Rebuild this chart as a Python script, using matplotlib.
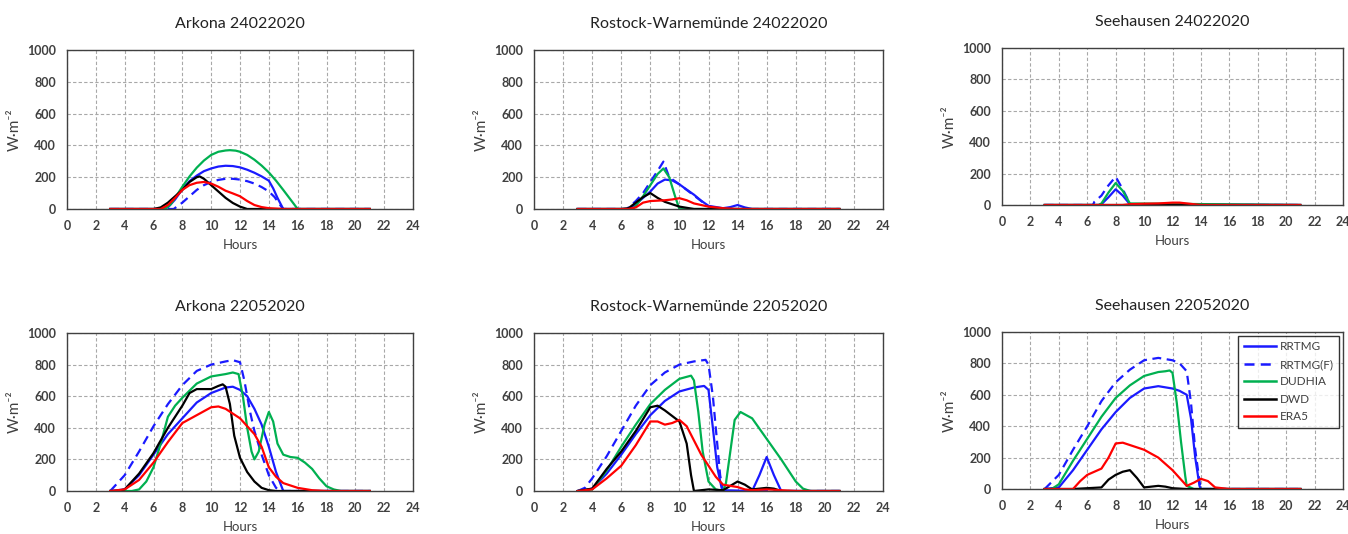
import matplotlib
matplotlib.use("Agg")
import matplotlib.pyplot as plt
from matplotlib.lines import Line2D

plt.rcParams['font.family'] = ['Lato', 'DejaVu Sans']

titles = ["Arkona 24022020", "Rostock-Warnemünde 24022020", "Seehausen 24022020",
          "Arkona 22052020", "Rostock-Warnemünde 22052020", "Seehausen 22052020"]
series_names = ["RRTMG", "RRTMG(F)", "DUDHIA", "DWD", "ERA5"]

# ---------- Arkona 24022020 ----------
p1_rrtmg_t = [3, 6.5, 7, 7.5, 8, 8.5, 9, 9.5, 10, 10.5, 11, 11.5, 12, 12.5, 13, 13.5, 14, 14.3, 14.6, 15, 21]
p1_rrtmg_v = [0, 0, 10, 60, 125, 175, 210, 238, 255, 267, 272, 270, 262, 247, 228, 205, 178, 130, 70, 0, 0]
p1_rrtmgf_t = [3, 7.4, 8, 8.5, 9, 9.5, 10, 10.5, 11, 11.5, 12, 12.5, 13, 13.5, 14, 14.4, 14.7, 15, 21]
p1_rrtmgf_v = [0, 0, 40, 80, 120, 150, 170, 183, 190, 190, 185, 175, 160, 138, 110, 75, 35, 0, 0]
p1_dudhia_t = [3, 6.8, 7.2, 7.5, 8, 8.5, 9, 9.5, 10, 10.5, 11, 11.3, 11.7, 12, 12.5, 13, 13.5, 14, 14.5, 15, 15.5, 16, 21]
p1_dudhia_v = [0, 0, 30, 70, 140, 205, 260, 305, 340, 360, 368, 370, 367, 360, 340, 310, 273, 230, 178, 120, 60, 0, 0]
p1_dwd_t = [3, 6, 6.5, 7, 7.5, 8, 8.5, 9, 9.2, 9.5, 10, 10.5, 11, 11.5, 12, 12.5, 21]
p1_dwd_v = [0, 0, 10, 40, 80, 120, 170, 200, 205, 190, 150, 110, 70, 38, 15, 0, 0]
p1_era5_t = [3, 6.5, 7, 7.5, 8, 8.5, 9, 9.5, 10, 10.5, 11, 11.5, 12, 12.5, 13, 13.5, 14, 15, 21]
p1_era5_v = [0, 0, 25, 70, 120, 150, 165, 170, 160, 140, 115, 98, 80, 50, 25, 12, 5, 0, 0]

# ---------- Rostock-Warnemünde 24022020 ----------
p2_rrtmg_t = [3, 6.5, 7, 7.5, 8, 8.5, 9, 9.5, 10, 10.5, 11, 11.5, 12, 13, 13.5, 14, 14.5, 15, 21]
p2_rrtmg_v = [0, 0, 30, 70, 110, 160, 185, 180, 155, 122, 90, 52, 20, 5, 12, 25, 10, 0, 0]
p2_rrtmgf_t = [3, 6.4, 6.5, 7, 7.5, 8, 8.5, 8.9, 9.3, 10, 11, 12, 13, 21]
p2_rrtmgf_v = [0, 0, 10, 50, 100, 170, 240, 298, 200, 155, 85, 15, 0, 0]
p2_dudhia_t = [3, 6.8, 7, 7.5, 8, 8.5, 8.9, 9.3, 9.7, 10, 21]
p2_dudhia_v = [0, 0, 20, 80, 150, 220, 255, 200, 80, 0, 0]
p2_dwd_t = [3, 6, 6.5, 7, 7.5, 8, 8.5, 9, 10, 11, 21]
p2_dwd_v = [0, 0, 5, 40, 75, 100, 70, 45, 15, 0, 0]
p2_era5_t = [3, 6.5, 7, 7.5, 8, 9, 9.5, 10, 10.5, 11, 12, 13, 14, 21]
p2_era5_v = [0, 0, 10, 40, 50, 55, 60, 68, 55, 35, 15, 5, 0, 0]

# ---------- Seehausen 24022020 ----------
p3_rrtmg_t = [3, 6.8, 7, 7.5, 8, 8.5, 9, 21]
p3_rrtmg_v = [0, 0, 5, 50, 100, 60, 5, 0]
p3_rrtmgf_t = [3, 6.4, 6.5, 7, 7.4, 8, 8.5, 9, 9.2, 21]
p3_rrtmgf_v = [0, 0, 20, 60, 115, 180, 100, 10, 0, 0]
p3_dudhia_t = [3, 6.8, 7, 7.5, 8, 8.5, 9, 21]
p3_dudhia_v = [0, 0, 10, 80, 140, 90, 10, 0]
p3_dwd_t = [3, 21]
p3_dwd_v = [0, 0]
p3_era5_t = [3, 8.5, 9, 10, 11, 12, 12.5, 13, 14, 21]
p3_era5_v = [0, 0, 5, 8, 10, 15, 15, 10, 0, 0]

# ---------- Arkona 22052020 ----------
p4_rrtmg_t = [3, 4, 5, 6, 7, 8, 9, 10, 11, 11.5, 12, 12.5, 13, 13.5, 14, 14.5, 15, 21]
p4_rrtmg_v = [0, 10, 100, 230, 360, 460, 560, 620, 655, 660, 640, 600, 520, 420, 280, 120, 0, 0]
p4_rrtmgf_t = [3, 4, 5, 6, 7, 8, 9, 10, 11, 11.5, 12, 12.3, 12.7, 13, 13.5, 14, 14.5, 14.8, 21]
p4_rrtmgf_v = [0, 100, 250, 410, 550, 670, 760, 800, 820, 828, 815, 700, 500, 380, 230, 100, 20, 0, 0]
p4_dudhia_t = [3, 4.5, 5, 5.5, 6, 6.5, 7, 7.5, 8, 9, 10, 11, 11.5, 11.9, 12.2, 12.5, 12.8, 13,
               13.3, 13.7, 14, 14.3, 14.6, 15, 15.5, 16, 16.5, 17, 17.5, 18, 18.5, 19, 21]
p4_dudhia_v = [0, 0, 10, 60, 150, 300, 470, 540, 590, 680, 725, 740, 750, 740, 600, 400, 250, 200,
               250, 420, 500, 440, 300, 230, 215, 210, 180, 140, 80, 30, 10, 0, 0]
p4_dwd_t = [3, 3.5, 4, 5, 6, 7, 8, 8.5, 9, 10, 10.5, 10.8, 11, 11.3, 11.6, 12, 12.5, 13, 13.5, 14, 14.5, 21]
p4_dwd_v = [0, 0, 10, 110, 240, 400, 540, 620, 645, 645, 665, 675, 660, 550, 350, 210, 120, 60, 20, 5, 0, 0]
p4_era5_t = [3, 4, 5, 6, 7, 8, 9, 10, 10.5, 11, 12, 13, 13.5, 14, 14.5, 15, 16, 17, 18, 21]
p4_era5_v = [0, 10, 70, 180, 310, 430, 480, 530, 535, 520, 460, 360, 280, 150, 90, 50, 20, 5, 0, 0]

# ---------- Rostock-Warnemünde 22052020 ----------
p5_rrtmg_t = [3, 4, 5, 6, 7, 8, 9, 10, 11, 11.7, 12, 12.3, 12.6, 12.9, 13, 15, 15.5, 16, 16.5, 17, 21]
p5_rrtmg_v = [0, 15, 110, 230, 360, 480, 570, 630, 655, 665, 640, 400, 150, 20, 5, 0, 100, 215, 100, 0, 0]
p5_rrtmgf_t = [3, 3.5, 4, 5, 6, 7, 8, 9, 10, 11, 11.8, 12, 12.3, 12.6, 12.8, 13, 21]
p5_rrtmgf_v = [0, 20, 80, 220, 380, 540, 670, 750, 800, 820, 830, 800, 600, 300, 100, 0, 0]
p5_dudhia_t = [3, 4, 5, 6, 7, 8, 9, 10, 10.8, 11, 11.3, 11.6, 12, 12.5, 13, 13.2, 13.5, 13.8,
               14.2, 15, 16, 17, 18, 18.5, 19, 21]
p5_dudhia_v = [0, 10, 130, 280, 420, 550, 640, 710, 730, 700, 500, 250, 60, 10, 0, 50, 250, 450,
               500, 460, 330, 200, 60, 15, 0, 0]
p5_dwd_t = [3, 4, 5, 6, 7, 8, 8.5, 9, 10, 10.5, 10.8, 11, 12, 13, 14, 14.5, 15, 16, 16.5, 17, 21]
p5_dwd_v = [0, 15, 140, 250, 380, 530, 540, 510, 440, 300, 100, 0, 10, 5, 60, 40, 10, 20, 15, 0, 0]
p5_era5_t = [3, 4, 5, 6, 7, 8, 8.5, 9, 9.5, 10, 10.5, 11, 11.5, 12, 12.5, 13, 14, 14.5, 15, 16, 17, 18, 21]
p5_era5_v = [0, 10, 80, 160, 290, 440, 440, 420, 430, 450, 410, 320, 230, 160, 90, 40, 25, 10, 5, 10, 5, 0, 0]

# ---------- Seehausen 22052020 ----------
p6_rrtmg_t = [3, 4, 5, 6, 7, 8, 9, 10, 11, 12, 12.5, 13, 13.3, 13.6, 13.9, 14, 21]
p6_rrtmg_v = [0, 10, 120, 250, 380, 490, 580, 640, 655, 640, 625, 600, 450, 200, 20, 0, 0]
p6_rrtmgf_t = [3, 4, 5, 6, 7, 8, 9, 10, 11, 12, 12.5, 13, 13.3, 13.6, 13.9, 14, 21]
p6_rrtmgf_v = [0, 90, 250, 400, 560, 680, 760, 820, 835, 820, 800, 750, 550, 250, 50, 0, 0]
p6_dudhia_t = [3, 3.5, 4, 5, 6, 7, 8, 9, 10, 11, 11.5, 11.8, 12, 12.3, 12.6, 12.9, 13, 13.5, 21]
p6_dudhia_v = [0, 0, 30, 180, 320, 460, 580, 660, 720, 745, 750, 755, 740, 550, 300, 80, 20, 0, 0]
p6_dwd_t = [3, 5, 6, 7, 7.5, 8, 8.5, 9, 9.5, 10, 10.5, 11, 11.5, 12, 13, 21]
p6_dwd_v = [0, 0, 5, 10, 60, 90, 110, 120, 70, 10, 15, 20, 15, 5, 0, 0]
p6_era5_t = [3, 5, 5.5, 6, 6.5, 7, 7.5, 8, 8.5, 9, 10, 11, 12, 12.5, 13, 13.5, 14, 14.5, 15, 16, 21]
p6_era5_v = [0, 0, 50, 90, 110, 130, 200, 290, 295, 280, 250, 200, 120, 70, 20, 40, 65, 50, 10, 0, 0]

panels = [
    [(p1_rrtmg_t, p1_rrtmg_v), (p1_rrtmgf_t, p1_rrtmgf_v), (p1_dudhia_t, p1_dudhia_v), (p1_dwd_t, p1_dwd_v), (p1_era5_t, p1_era5_v)],
    [(p2_rrtmg_t, p2_rrtmg_v), (p2_rrtmgf_t, p2_rrtmgf_v), (p2_dudhia_t, p2_dudhia_v), (p2_dwd_t, p2_dwd_v), (p2_era5_t, p2_era5_v)],
    [(p3_rrtmg_t, p3_rrtmg_v), (p3_rrtmgf_t, p3_rrtmgf_v), (p3_dudhia_t, p3_dudhia_v), (p3_dwd_t, p3_dwd_v), (p3_era5_t, p3_era5_v)],
    [(p4_rrtmg_t, p4_rrtmg_v), (p4_rrtmgf_t, p4_rrtmgf_v), (p4_dudhia_t, p4_dudhia_v), (p4_dwd_t, p4_dwd_v), (p4_era5_t, p4_era5_v)],
    [(p5_rrtmg_t, p5_rrtmg_v), (p5_rrtmgf_t, p5_rrtmgf_v), (p5_dudhia_t, p5_dudhia_v), (p5_dwd_t, p5_dwd_v), (p5_era5_t, p5_era5_v)],
    [(p6_rrtmg_t, p6_rrtmg_v), (p6_rrtmgf_t, p6_rrtmgf_v), (p6_dudhia_t, p6_dudhia_v), (p6_dwd_t, p6_dwd_v), (p6_era5_t, p6_era5_v)],
]

colors = ["#1a1aff", "#1a1aff", "#00b050", "#000000", "#ff0000"]
styles = ["-", (0, (4, 2.5)), "-", "-", "-"]

x_ticks = list(range(0, 25, 2))
y_ticks = list(range(0, 1001, 200))

fig = plt.figure(figsize=(13.48, 5.34), dpi=100)
W, H = 1348, 534
# axes boxes in pixels: left, top, right, bottom
boxes = [(67, 50, 413, 209), (534, 50, 883, 209), (1002, 48, 1343, 205),
         (67, 333, 413, 491), (534, 333, 883, 491), (1002, 332, 1343, 489)]

for i, (l, t, r, b) in enumerate(boxes):
    ax = fig.add_axes([l / W, (H - b) / H, (r - l) / W, (b - t) / H])
    for (tt, vv), c, ls, name in zip(panels[i], colors, styles, series_names):
        ax.plot(tt, vv, color=c, linestyle=ls, linewidth=1.6, label=name)
    ax.set_xlim(0, 24)
    ax.set_ylim(0, 1000)
    ax.set_xticks(x_ticks)
    ax.set_yticks(y_ticks)
    ax.grid(True, color="#a8a8a8", linestyle=(0, (3, 2)), linewidth=0.8)
    ax.set_axisbelow(True)
    ax.tick_params(length=0, labelsize=9, colors="#404040", pad=8)
    for lab in ax.get_xticklabels() + ax.get_yticklabels():
        lab.set_fontweight("bold")
    for sp in ax.spines.values():
        sp.set_color("#404040")
        sp.set_linewidth(1.0)
    ax.set_title(titles[i], fontsize=11.5, color="#222222", pad=16)
    ax.set_xlabel("Hours", fontsize=9.5, color="#404040", labelpad=5)
    ax.set_ylabel("W·m⁻²", fontsize=11, color="#404040", labelpad=4)
    if i == 5:
        handles = [Line2D([0], [0], color=c, linestyle=ls, linewidth=1.8) for c, ls in zip(colors, styles)]
        leg = ax.legend(handles, series_names, loc="upper right", fontsize=8.5,
                        frameon=True, fancybox=False, edgecolor="#000000",
                        handlelength=2.7, handletextpad=0.3, borderaxespad=0.3,
                        labelspacing=0.55, borderpad=0.5)
        leg.get_frame().set_linewidth(1.0)
        for txt in leg.get_texts():
            txt.set_color("#404040")

fig.savefig("out.png", dpi=100)
